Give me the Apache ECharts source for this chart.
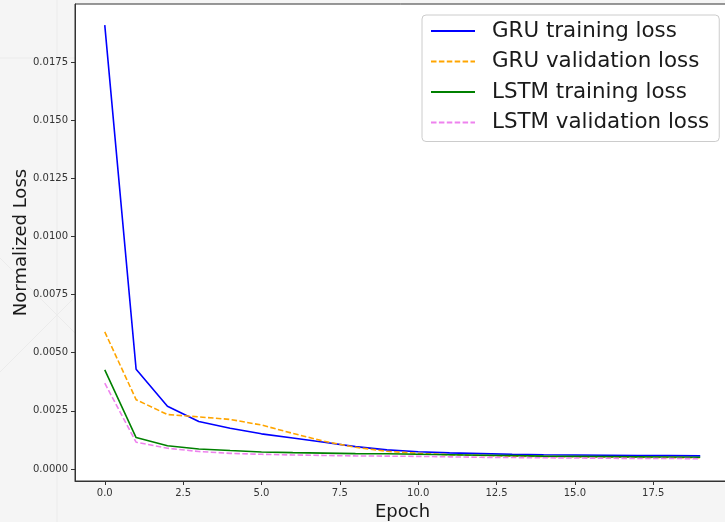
<!DOCTYPE html>
<html>
<head>
<meta charset="utf-8">
<script src="https://cdn.jsdelivr.net/npm/echarts@6/dist/echarts.min.js"></script>
<style>
  html, body { margin: 0; padding: 0; background: #f5f5f5; }
  #chart { width: 725px; height: 522px; }
</style>
</head>
<body>
<div id="chart"></div>
<script>
// Loss per epoch for the two recurrent models
const epochs = [0, 1, 2, 3, 4, 5, 6, 7, 8, 9, 10, 11, 12, 13, 14, 15, 16, 17, 18, 19];
const gruTrain = [0.0191, 0.00429, 0.00270, 0.00204, 0.00175, 0.00151, 0.00133, 0.00115, 0.00096, 0.00082,
                  0.00074, 0.00069, 0.00066, 0.00063, 0.00061, 0.00060, 0.00059, 0.00058, 0.00057, 0.00056];
const gruVal = [0.0059, 0.00298, 0.00234, 0.00224, 0.00213, 0.00189, 0.00153, 0.00119, 0.00093, 0.00076,
                0.00067, 0.00061, 0.00058, 0.00055, 0.00053, 0.00052, 0.00051, 0.00050, 0.00049, 0.00048];
const lstmTrain = [0.00426, 0.00135, 0.00100, 0.00086, 0.00079, 0.00073, 0.00070, 0.00068, 0.00066, 0.00065,
                   0.00063, 0.00061, 0.00059, 0.00057, 0.00055, 0.00054, 0.00053, 0.00052, 0.00051, 0.00050];
const lstmVal = [0.00369, 0.00115, 0.00089, 0.00075, 0.00067, 0.00063, 0.00060, 0.00058, 0.00056, 0.00055,
                 0.00054, 0.00052, 0.00050, 0.00049, 0.00048, 0.00047, 0.00046, 0.00045, 0.00045, 0.00044];

const xTicks = [0, 2.5, 5, 7.5, 10, 12.5, 15, 17.5];
const yTicks = [0, 0.0025, 0.005, 0.0075, 0.01, 0.0125, 0.015, 0.0175];

const FONT = 'DejaVu Sans';
const pair = (ys) => epochs.map((e, i) => [e, ys[i]]);

function line(name, ys, color, dashed) {
  return {
    name: name,
    type: 'line',
    data: pair(ys),
    symbol: 'none',
    smooth: false,
    animation: false,
    lineStyle: { color: color, width: 1.6, type: dashed ? [5.5, 2.4] : 'solid' },
    itemStyle: { color: color }
  };
}

// faint backdrop strokes in the page margin
const faint = { stroke: '#ebebeb', lineWidth: 1 };
const backdrop = [
  { type: 'line', shape: { x1: 57, y1: 0, x2: 57, y2: 522 }, style: faint, z: -10, silent: true },
  { type: 'line', shape: { x1: 0, y1: 58, x2: 75, y2: 58 }, style: faint, z: -10, silent: true },
  { type: 'line', shape: { x1: 0, y1: 258, x2: 75, y2: 333 }, style: faint, z: -10, silent: true },
  { type: 'line', shape: { x1: 0, y1: 372, x2: 75, y2: 297 }, style: faint, z: -10, silent: true }
];

const chart = echarts.init(document.getElementById('chart'), null, { renderer: 'canvas' });
chart.setOption({
  backgroundColor: '#f5f5f5',
  animation: false,
  graphic: backdrop,
  grid: {
    left: 75, top: 4, width: 655, height: 477,
    outerBoundsMode: 'none',
    show: true, backgroundColor: '#ffffff', borderColor: '#333333', borderWidth: 1,
    containLabel: false
  },
  legend: {
    orient: 'vertical',
    left: 422, top: 15,
    padding: [5, 10, 8, 8],
    itemWidth: 44, itemHeight: 14, itemGap: 8.5,
    itemStyle: { opacity: 0 },
    backgroundColor: 'rgba(255,255,255,0.85)',
    borderColor: '#cccccc', borderWidth: 1, borderRadius: 4,
    textStyle: { fontFamily: FONT, fontSize: 21.4, color: '#1a1a1a', lineHeight: 22, padding: [0, 0, 0, 12] },
    data: ['GRU training loss', 'GRU validation loss', 'LSTM training loss', 'LSTM validation loss']
  },
  xAxis: {
    type: 'value',
    min: -0.95, max: 19.95,
    name: 'Epoch', nameLocation: 'middle', nameGap: 16,
    nameTextStyle: { fontFamily: FONT, fontSize: 18, color: '#1a1a1a' },
    axisLine: { show: true, onZero: false, lineStyle: { color: '#333333', width: 1 } },
    axisTick: { show: true, length: 4, customValues: xTicks, lineStyle: { color: '#333333' } },
    axisLabel: {
      customValues: xTicks, margin: 7,
      fontFamily: FONT, fontSize: 10, color: '#333333',
      formatter: (v) => v.toFixed(1)
    },
    splitLine: { show: false }
  },
  yAxis: {
    type: 'value',
    min: -0.00052, max: 0.02001,
    name: 'Normalized Loss', nameLocation: 'middle', nameGap: 45,
    nameMoveOverlap: false,
    nameTextStyle: { fontFamily: FONT, fontSize: 18, color: '#1a1a1a' },
    axisLine: { show: true, onZero: false, lineStyle: { color: '#333333', width: 1 } },
    axisTick: { show: true, length: 4, customValues: yTicks, lineStyle: { color: '#333333' } },
    axisLabel: {
      customValues: yTicks, margin: 7,
      fontFamily: FONT, fontSize: 10, color: '#333333',
      formatter: (v) => v.toFixed(4)
    },
    splitLine: { show: false }
  },
  series: [
    line('GRU training loss', gruTrain, '#0000ff', false),
    line('GRU validation loss', gruVal, '#ffa500', true),
    line('LSTM training loss', lstmTrain, '#008000', false),
    line('LSTM validation loss', lstmVal, '#ee82ee', true)
  ]
});
</script>
</body>
</html>
